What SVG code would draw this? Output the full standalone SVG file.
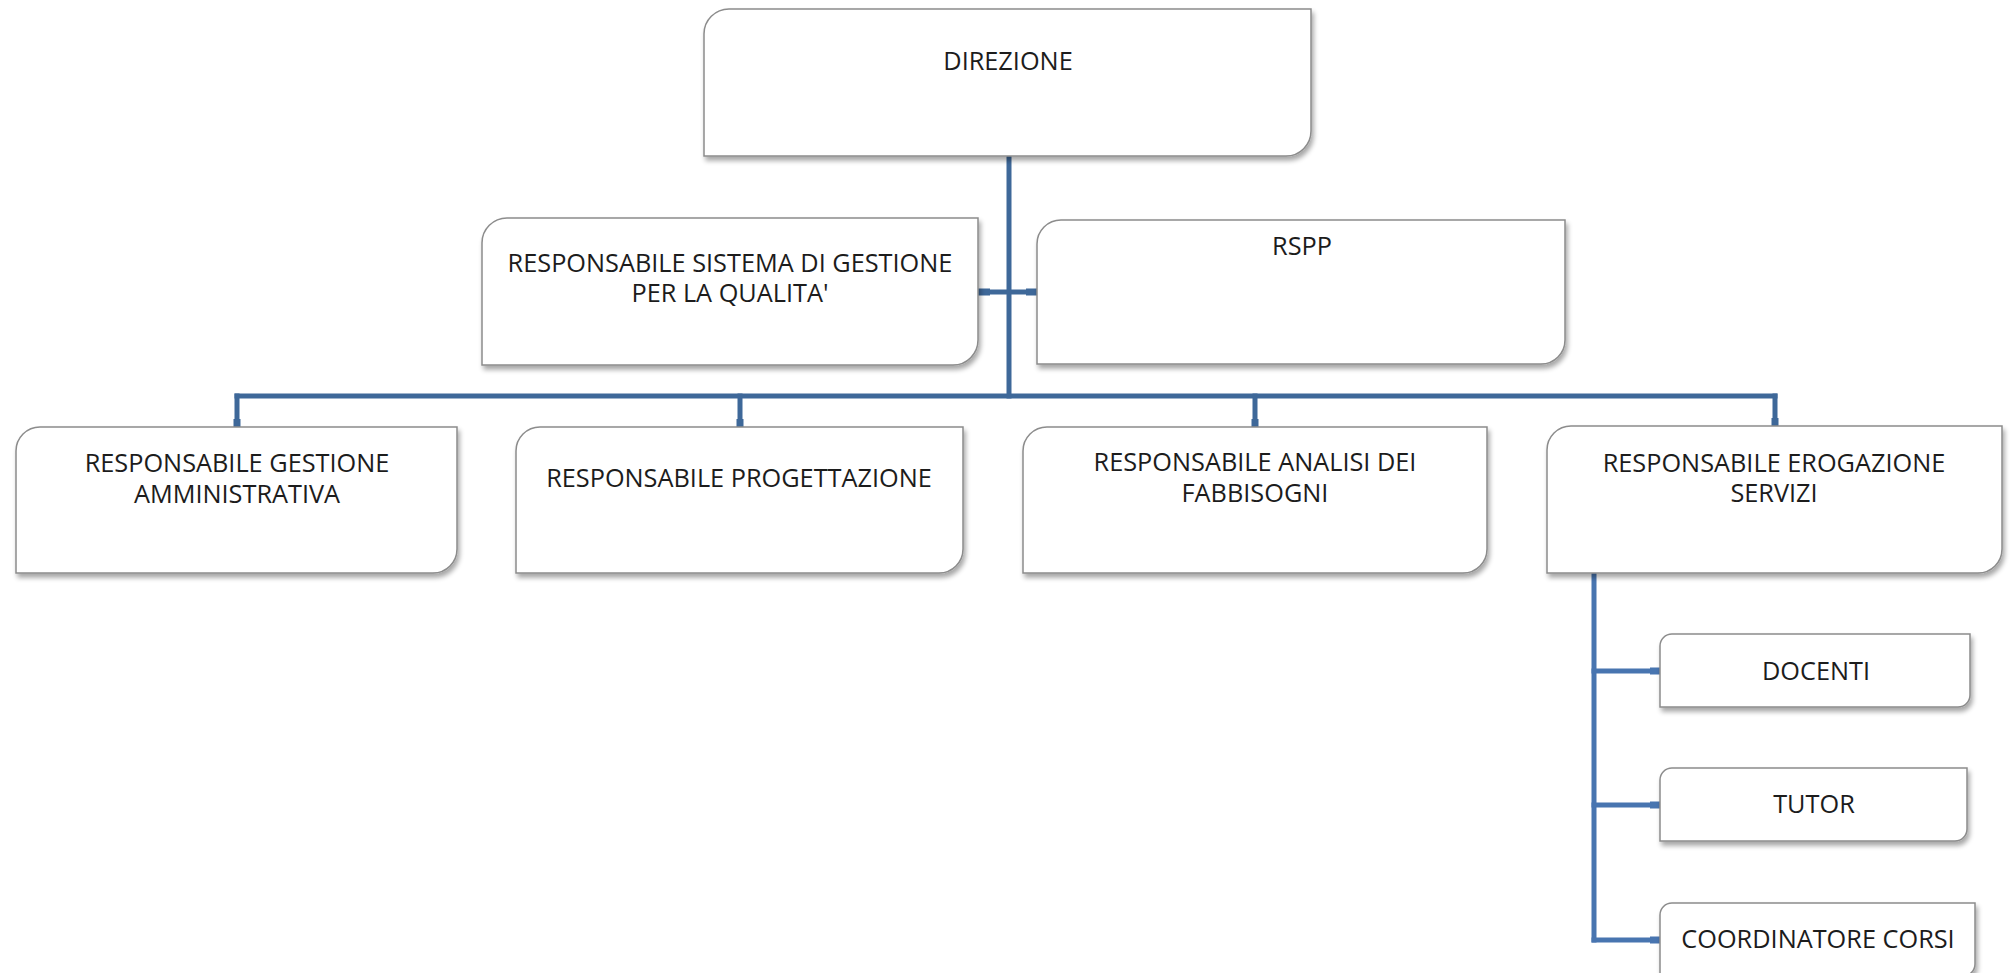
<svg xmlns="http://www.w3.org/2000/svg" width="2011" height="973" viewBox="0 0 2011 973">
<defs>
<filter id="sh" x="-5%" y="-10%" width="112%" height="130%">
<feGaussianBlur in="SourceAlpha" stdDeviation="2.5"/>
<feOffset dx="2" dy="4" result="b"/>
<feComponentTransfer><feFuncA type="linear" slope="0.35"/></feComponentTransfer>
<feMerge><feMergeNode/><feMergeNode in="SourceGraphic"/></feMerge>
</filter>
</defs>
<style>
.box{fill:#ffffff;stroke:#8c8c8c;stroke-width:1.5;filter:url(#sh)}
.t{font-family:"Open Sans","Noto Sans",sans-serif;font-size:25.3px;fill:#1c1c1c;text-anchor:middle}
.ln{fill:none;stroke:#3e6899;stroke-width:5;stroke-linecap:square;stroke-linejoin:miter}
.ln2{fill:none;stroke:#4875b0;stroke-width:5;stroke-linecap:square;stroke-linejoin:miter}
.stub{fill:#3e6899}
.stub2{fill:#4875b0}
</style>
<rect width="2011" height="973" fill="#ffffff"/>
<g id="connectors">
<path class="ln" d="M1009 158 V396"/>
<path class="ln" d="M237 396 H1775"/>
<path class="ln" d="M237 396 V425 M740 396 V425 M1255 396 V425 M1775 396 V424"/>
<path class="ln" d="M978 292 H1037"/>
<rect class="stub" x="978" y="288.5" width="12" height="7"/>
<rect class="stub" x="1026" y="288.5" width="12" height="7"/>
<rect class="stub" x="233.5" y="419" width="7" height="8"/>
<rect class="stub" x="736.5" y="419" width="7" height="8"/>
<rect class="stub" x="1251.5" y="419" width="7" height="8"/>
<rect class="stub" x="1771.5" y="418" width="7" height="8"/>
<path class="ln2" d="M1594 575 V940"/>
<path class="ln2" d="M1594 671 H1658 M1594 805 H1658 M1594 940 H1658"/>
<rect class="stub2" x="1650" y="667.5" width="11" height="7"/>
<rect class="stub2" x="1650" y="801.5" width="11" height="7"/>
<rect class="stub2" x="1650" y="936.5" width="11" height="7"/>
</g>
<g id="direzione">
<path class="box" d="M704 34 A25 25 0 0 1 729 9 H1311 V131 A25 25 0 0 1 1286 156 H704 Z"/>
<text class="t" x="1008" y="70">DIREZIONE</text>
</g>
<g id="rsgq">
<path class="box" d="M482 243 A25 25 0 0 1 507 218 H978 V340 A25 25 0 0 1 953 365 H482 Z"/>
<text class="t" x="730" y="272">RESPONSABILE SISTEMA DI GESTIONE</text>
<text class="t" x="730" y="302">PER LA QUALITA'</text>
</g>
<g id="rspp">
<path class="box" d="M1037 244 A24 24 0 0 1 1061 220 H1565 V340 A24 24 0 0 1 1541 364 H1037 Z"/>
<text class="t" x="1302" y="255">RSPP</text>
</g>
<g id="gestione-amministrativa">
<path class="box" d="M16 451 A24 24 0 0 1 40 427 H457 V549 A24 24 0 0 1 433 573 H16 Z"/>
<text class="t" x="237" y="472">RESPONSABILE GESTIONE</text>
<text class="t" x="237" y="503">AMMINISTRATIVA</text>
</g>
<g id="progettazione">
<path class="box" d="M516 451 A24 24 0 0 1 540 427 H963 V549 A24 24 0 0 1 939 573 H516 Z"/>
<text class="t" x="739" y="487">RESPONSABILE PROGETTAZIONE</text>
</g>
<g id="analisi-fabbisogni">
<path class="box" d="M1023 451 A24 24 0 0 1 1047 427 H1487 V549 A24 24 0 0 1 1463 573 H1023 Z"/>
<text class="t" x="1255" y="471">RESPONSABILE ANALISI DEI</text>
<text class="t" x="1255" y="502">FABBISOGNI</text>
</g>
<g id="erogazione-servizi">
<path class="box" d="M1547 450 A24 24 0 0 1 1571 426 H2002 V549 A24 24 0 0 1 1978 573 H1547 Z"/>
<text class="t" x="1774" y="472">RESPONSABILE EROGAZIONE</text>
<text class="t" x="1774" y="502">SERVIZI</text>
</g>
<g id="docenti">
<path class="box" d="M1660 646 A12 12 0 0 1 1672 634 H1970 V695 A12 12 0 0 1 1958 707 H1660 Z"/>
<text class="t" x="1816" y="680">DOCENTI</text>
</g>
<g id="tutor">
<path class="box" d="M1660 780 A12 12 0 0 1 1672 768 H1967 V829 A12 12 0 0 1 1955 841 H1660 Z"/>
<text class="t" x="1814" y="813">TUTOR</text>
</g>
<g id="coordinatore-corsi">
<path class="box" d="M1660 915 A12 12 0 0 1 1672 903 H1975 V964 A12 12 0 0 1 1963 976 H1660 Z"/>
<text class="t" x="1818" y="948">COORDINATORE CORSI</text>
</g>
</svg>
